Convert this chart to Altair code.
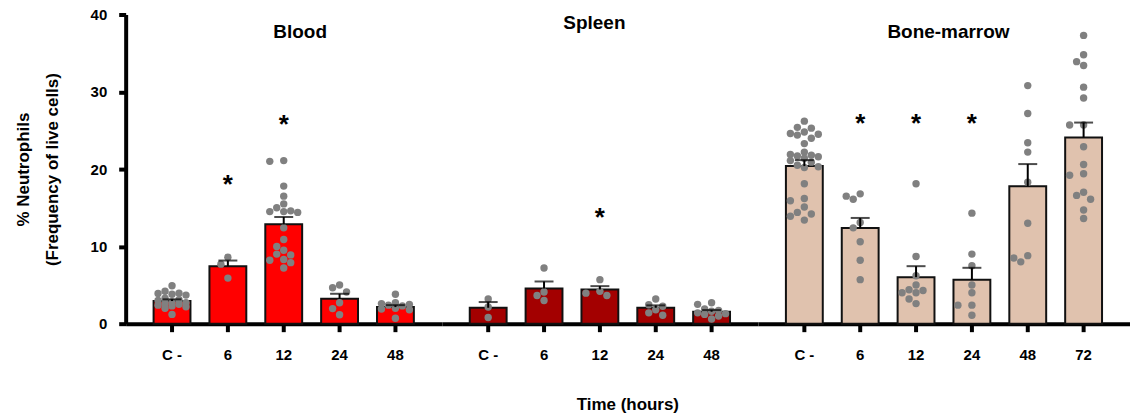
import math
import altair as alt
import pandas as pd

FONT = "Liberation Sans, Arial, Helvetica, sans-serif"

# ---------------- data ----------------
times_blood = ["C -", "6", "12", "24", "48"]
times_spleen = ["C -", "6", "12", "24", "48"]
times_bm = ["C -", "6", "12", "24", "48", "72"]

blood_mean = [2.93, 7.44, 12.86, 3.23, 2.15]
blood_sem = [0.22, 0.73, 0.94, 0.64, 0.25]
spleen_mean = [2.06, 4.56, 4.43, 2.06, 1.55]
spleen_sem = [0.74, 0.90, 0.43, 0.31, 0.21]
bm_mean = [20.39, 12.39, 6.02, 5.68, 17.77, 24.09]
bm_sem = [0.77, 1.29, 1.42, 1.55, 2.88, 1.93]

blood_points = {
    "C -": [4.9, 4.2, 3.95, 3.9, 3.8, 3.7, 3.3, 3.1, 3.0, 2.8, 2.7, 2.6, 2.5, 2.4, 2.3, 2.2, 2.0, 1.2],
    "6": [8.6, 7.7, 5.9],
    "12": [21.1, 21.0, 17.8, 16.5, 15.5, 15.0, 14.6, 14.5, 14.5, 14.4, 12.4, 10.9, 10.0,
           9.5, 9.0, 8.9, 8.3, 8.2, 7.9, 7.2],
    "24": [5.0, 4.65, 4.1, 2.7, 1.95, 1.15],
    "48": [3.8, 2.7, 2.6, 2.5, 2.4, 2.3, 2.0, 1.9, 1.8, 0.7],
}
spleen_points = {
    "C -": [3.2, 2.15, 0.8],
    "6": [7.2, 4.1, 3.65, 3.0],
    "12": [5.7, 4.2, 3.95, 3.65],
    "24": [3.2, 2.45, 2.25, 1.8, 1.4, 1.1],
    "48": [2.7, 2.5, 1.9, 1.7, 1.6, 1.4, 1.3, 1.2, 1.0, 0.6],
}
bm_points = {
    "C -": [26.2, 25.4, 25.3, 24.8, 24.6, 24.5, 24.4, 24.0, 23.3, 22.2, 21.9, 21.8, 21.7, 21.6,
            21.4, 21.1, 20.9, 20.5, 20.3, 20.2, 18.1, 16.2, 15.9, 15.1, 14.4, 14.2, 13.9, 13.4],
    "6": [16.8, 16.5, 16.1, 13.1, 12.4, 10.6, 8.2, 5.7],
    "12": [18.1, 8.7, 6.2, 5.0, 4.4, 4.3, 4.0, 4.0, 3.2, 2.6],
    "24": [14.3, 9.0, 7.5, 5.0, 4.0, 2.4, 2.4, 1.1],
    "48": [30.8, 27.2, 23.4, 22.2, 18.3, 13.0, 8.8, 8.5, 8.0],
    "72": [37.3, 34.8, 33.9, 33.4, 30.6, 29.2, 25.7, 25.7, 22.9, 20.6, 19.4, 19.2, 17.0,
           16.6, 16.1, 14.7, 13.6],
}

blood_star_t, blood_star_y = ["6", "12"], [18.8, 26.6]
spleen_star_t, spleen_star_y = ["12"], [14.6]
bm_star_t, bm_star_y = ["6", "12", "24"], [26.7, 26.7, 26.7]

# ---------------- layout constants ----------------
PLOT_H = 310
Y_MAX = 40
STEP = 56
PAD_IN = 0.34
PAD_OUT = 0.5
BW = STEP * (1 - PAD_IN)
DOT = 7.5
SWARM_COLS = [0.0, -7.0, 7.0, -14.0, 14.0]

COL_BLOOD = "#FF0000"
COL_SPLEEN = "#A30000"
COL_BM = "#E0C2AE"
COL_DOT = "#808080"


def swarm_offsets(vals):
    ppu = PLOT_H / Y_MAX
    placed, out = [], []
    for v in vals:
        y = v * ppu
        chosen = None
        best_c, best_d = 0.0, -1.0
        for c in SWARM_COLS:
            d = min((math.hypot(c - px, y - py) for px, py in placed), default=1e9)
            if d >= DOT:
                chosen = c
                break
            if d > best_d:
                best_c, best_d = c, d
        if chosen is None:
            chosen = best_c
        placed.append((chosen, y))
        out.append(chosen)
    return out


def panel(times, means, sems, points, star_t, star_y, color, title, title_dx, title_py,
          show_y, xtitle):
    n = len(times)
    pw = STEP * (n - PAD_IN + 2 * PAD_OUT)
    bars = pd.DataFrame({"t": times, "mean": means, "sem": sems})
    bars["top"] = bars["mean"] + bars["sem"]
    rows = []
    for t in times:
        vals = points[t]
        for v, o in zip(vals, swarm_offsets(vals)):
            rows.append({"t": t, "v": v, "off": o})
    pts = pd.DataFrame(rows)
    stars = pd.DataFrame({"t": star_t, "sy": star_y, "s": ["*"] * len(star_t)})

    if xtitle:
        xaxis = alt.Axis(title=xtitle, titleX=626 - 440, titleY=81, titleBaseline="middle",
                         titleAlign="center", titleFontSize=17, titleFontWeight="bold")
    else:
        xaxis = alt.Axis(title=None)
    xscale = alt.Scale(domain=times, paddingInner=PAD_IN, paddingOuter=PAD_OUT)
    x = alt.X("t:N", scale=xscale, axis=xaxis)
    yscale = alt.Scale(domain=[0, Y_MAX], nice=False)
    if show_y:
        yaxis = alt.Axis(title=["% Neutrophils", "(Frequency of live cells)"],
                         values=[0, 10, 20, 30, 40], tickSize=7, labelPadding=12,
                         titlePadding=29, titleFontSize=17, titleFontWeight="bold",
                         titleLineHeight=29, labelFontSize=15, labelFontWeight="bold")
    else:
        yaxis = None

    def Y(field):
        return alt.Y(field, scale=yscale, axis=yaxis)

    layers = [alt.Chart(bars).mark_bar(color=color, stroke="#111111", strokeWidth=2).encode(
        x=x, y=Y("mean:Q"))]
    for c in SWARM_COLS:
        sub = pts[pts["off"] == c]
        if len(sub) == 0:
            continue
        layers.append(alt.Chart(sub).mark_circle(color=COL_DOT, opacity=1, size=55).encode(
            x=alt.X("t:N", scale=xscale, axis=xaxis, bandPosition=0.5 + c / BW),
            y=Y("v:Q")))
    layers.append(alt.Chart(bars).mark_rule(color="black", strokeWidth=2).encode(
        x=x, y=Y("mean:Q"), y2="top:Q"))
    layers.append(alt.Chart(bars).mark_tick(color="black", orient="horizontal", size=19,
                                            thickness=2).encode(x=x, y=Y("top:Q")))
    layers.append(alt.Chart(stars).mark_text(font=FONT, fontSize=26, fontWeight="bold",
                                             color="black", baseline="alphabetic", dy=15).encode(
        x=x, y=Y("sy:Q"), text="s:N"))
    layers.append(alt.Chart(pd.DataFrame({"label": [title]})).mark_text(
        font=FONT, fontSize=19, fontWeight="bold", color="black", baseline="middle",
        align="center").encode(x=alt.value(pw / 2 + title_dx), y=alt.value(title_py),
                               text="label:N"))
    return alt.layer(*layers).properties(width=alt.Step(STEP), height=PLOT_H)


p1 = panel(times_blood, blood_mean, blood_sem, blood_points, blood_star_t, blood_star_y,
           COL_BLOOD, "Blood", 16.5, 18, True, None)
p2 = panel(times_spleen, spleen_mean, spleen_sem, spleen_points, spleen_star_t, spleen_star_y,
           COL_SPLEEN, "Spleen", -5.5, 9, False, "Time (hours)")
p3 = panel(times_bm, bm_mean, bm_sem, bm_points, bm_star_t, bm_star_y,
           COL_BM, "Bone-marrow", 4.5, 18, False, None)

chart = alt.hconcat(p1, p2, p3, spacing=0).properties(
    padding={"left": 14, "top": 7, "right": 0, "bottom": 0}
).configure_view(strokeWidth=0).configure_axis(
    labelFont=FONT, titleFont=FONT, labelColor="black", titleColor="black",
    domainColor="black", tickColor="black", domainWidth=4, tickWidth=4, grid=False,
    labelFontSize=15, labelFontWeight="bold"
).configure_axisX(tickSize=8, labelPadding=16, labelAngle=0)

chart.save("out.html", embed_options={"renderer": "svg", "actions": False})
